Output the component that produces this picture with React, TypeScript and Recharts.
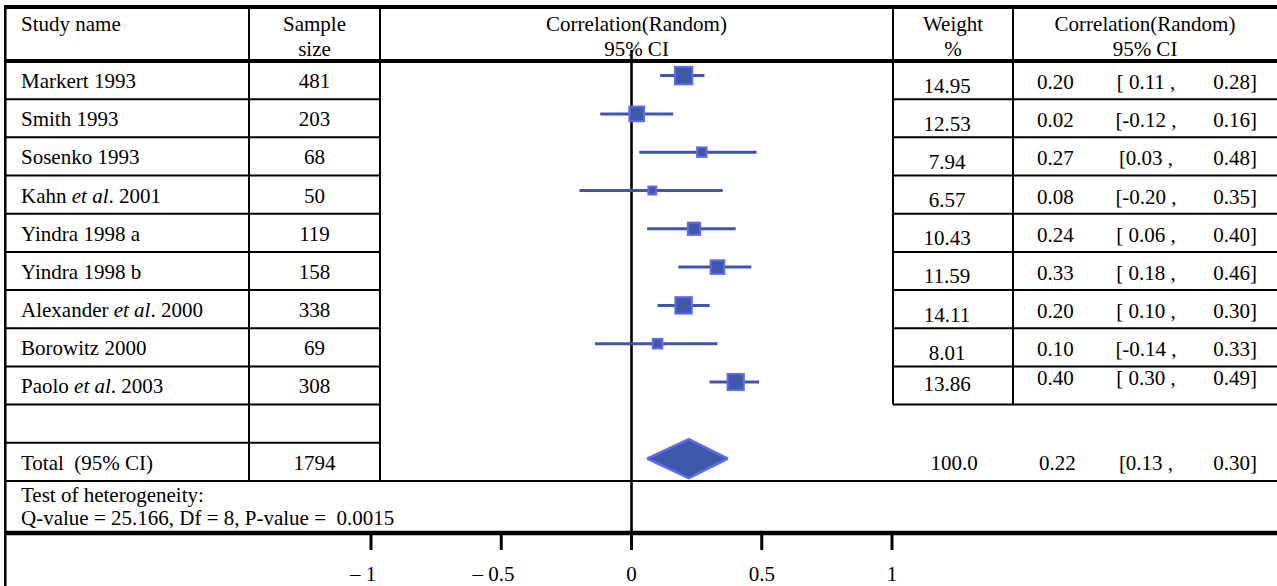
import React from 'react';
import { ComposedChart, Scatter, ErrorBar, Area, XAxis, YAxis, ReferenceLine } from 'recharts';

// ---------- data ----------
const studyNames = [
  'Markert 1993',
  'Smith 1993',
  'Sosenko 1993',
  'Kahn et al. 2001',
  'Yindra 1998 a',
  'Yindra 1998 b',
  'Alexander et al. 2000',
  'Borowitz 2000',
  'Paolo et al. 2003',
];
const sampleSizes = [481, 203, 68, 50, 119, 158, 338, 69, 308];
const weights = [14.95, 12.53, 7.94, 6.57, 10.43, 11.59, 14.11, 8.01, 13.86];
const estimates = [0.2, 0.02, 0.27, 0.08, 0.24, 0.33, 0.2, 0.1, 0.4];
const lowerCI = [0.11, -0.12, 0.03, -0.2, 0.06, 0.18, 0.1, -0.14, 0.3];
const upperCI = [0.28, 0.16, 0.48, 0.35, 0.4, 0.46, 0.3, 0.33, 0.49];
const estimateText = ['0.20', '0.02', '0.27', '0.08', '0.24', '0.33', '0.20', '0.10', '0.40'];
const lowerText = ['[ 0.11 ,', '[-0.12 ,', '[0.03 ,', '[-0.20 ,', '[ 0.06 ,', '[ 0.18 ,', '[ 0.10 ,', '[-0.14 ,', '[ 0.30 ,'];
const upperText = ['0.28]', '0.16]', '0.48]', '0.35]', '0.40]', '0.46]', '0.30]', '0.33]', '0.49]'];

const totalLabel = 'Total  (95% CI)';
const totalSample = 1794;
const totalWeightText = '100.0';
const totalEstimateText = '0.22';
const totalLowerText = '[0.13 ,';
const totalUpperText = '0.30]';
// summary diamond as drawn: left tip, centre, right tip
const totalDiamond = [0.06, 0.22, 0.37];

const xTicks = [-1, -0.5, 0, 0.5, 1];
const xTickLabels = ['\u2013 1', '\u2013 0.5', '0', '0.5', '1'];

const headerCols = [
  ['Study name', ''],
  ['Sample', 'size'],
  ['Correlation(Random)', '95% CI'],
  ['Weight', '%'],
  ['Correlation(Random)', '95% CI'],
];
const heterogeneityLines = ['Test of heterogeneity:', 'Q-value = 25.166, Df = 8, P-value =  0.0015'];

// ---------- layout ----------
const W = 1277;
const H = 586;
const FONT = "'Liberation Serif', 'Times New Roman', Times, serif";
const FS = 21;
const PLOT_TOP = 50;
const AXIS_Y = 533;
const PLOT_L = 5;
const PLOT_R = 1277;
const ZERO_X = 631.5;
const PX_PER_UNIT = 260.5;
const ROW0_Y = 75.6;
const ROW_STEP = 38.3;
const TOTAL_ROW = 10;
const DIAMOND_HALF = 0.51;

const xDomain = [(PLOT_L - ZERO_X) / PX_PER_UNIT, (PLOT_R - ZERO_X) / PX_PER_UNIT];
const yDomain = [(PLOT_TOP - ROW0_Y) / ROW_STEP, (AXIS_Y - ROW0_Y) / ROW_STEP];

const ROW_TOP0 = 61;
const ROW_H = 38.18;
const rowTop = (i: number) => ROW_TOP0 + ROW_H * i;

const C_NAME = 249;
const C_SAMPLE = 380;
const C_WEIGHT = 893;
const C_CI = 1013;
const LEFT = 5.3;

const BOX_FILL = '#3F57A7';
const BOX_EDGE = '#6169F4';
const WHISKER = '#3E55AD';

const studyData = studyNames.map((_, i) => ({
  x: estimates[i],
  y: i,
  err: [estimates[i] - lowerCI[i], upperCI[i] - estimates[i]],
  w: weights[i],
}));

const diamondData = [
  { x: totalDiamond[0], r: [TOTAL_ROW, TOTAL_ROW] },
  { x: totalDiamond[1], r: [TOTAL_ROW - DIAMOND_HALF, TOTAL_ROW + DIAMOND_HALF] },
  { x: totalDiamond[2], r: [TOTAL_ROW, TOTAL_ROW] },
];

const BoxShape = (props: any) => {
  const { cx, cy, payload } = props;
  if (cx == null || cy == null) return null;
  const s = payload.w * 1.13 + 0.5;
  return (
    <rect
      x={cx - s / 2}
      y={cy - s / 2}
      width={s}
      height={s}
      fill={BOX_FILL}
      stroke={BOX_EDGE}
      strokeWidth={2}
    />
  );
};

const numWidth = (s: string) => {
  let w = 0;
  for (const ch of s) w += ch === '.' ? 0.25 : 0.5;
  return w * FS;
};

const TickLabel = (props: any) => {
  const { x, y, payload } = props;
  const idx = xTicks.indexOf(payload.value);
  const label = xTickLabels[idx] ?? String(payload.value);
  const num = label.replace('\u2013 ', '');
  return (
    <text
      x={x + numWidth(num) / 2}
      y={y + 29}
      textAnchor="end"
      fontFamily={FONT}
      fontSize={FS}
      fill="#000"
      style={{ whiteSpace: 'pre' }}
    >
      {label}
    </text>
  );
};

const renderName = (name: string) => {
  const k = name.indexOf('et al');
  if (k < 0) return name;
  return (
    <>
      {name.slice(0, k)}
      <tspan fontStyle="italic">et al</tspan>
      {name.slice(k + 5)}
    </>
  );
};

const T = (p: any) => (
  <text
    fontFamily={FONT}
    fontSize={FS}
    fill="#000"
    style={{ whiteSpace: 'pre' }}
    {...p}
  />
);

const Ln = (p: any) => <line stroke="#000" strokeWidth={2} {...p} />;

const TableLayer = () => {
  const lines: any[] = [];
  lines.push(<Ln key="top" x1={LEFT - 1} x2={W} y1={7} y2={7} strokeWidth={4} />);
  lines.push(<Ln key="hdr" x1={LEFT - 1} x2={W} y1={61} y2={61} strokeWidth={4} />);
  lines.push(<Ln key="lb" x1={LEFT} x2={LEFT} y1={5} y2={H} strokeWidth={2.5} />);
  lines.push(<Ln key="v1" x1={C_NAME} x2={C_NAME} y1={5} y2={rowTop(11)} />);
  lines.push(<Ln key="v2" x1={C_SAMPLE} x2={C_SAMPLE} y1={5} y2={rowTop(11)} />);
  lines.push(<Ln key="v3" x1={C_WEIGHT} x2={C_WEIGHT} y1={5} y2={rowTop(9)} />);
  lines.push(<Ln key="v4" x1={C_CI} x2={C_CI} y1={5} y2={rowTop(9)} />);
  for (let i = 1; i <= 10; i++) {
    lines.push(<Ln key={'l' + i} x1={LEFT} x2={C_SAMPLE} y1={rowTop(i)} y2={rowTop(i)} />);
  }
  for (let i = 1; i <= 9; i++) {
    lines.push(<Ln key={'r' + i} x1={C_WEIGHT} x2={W} y1={rowTop(i)} y2={rowTop(i)} />);
  }
  lines.push(<Ln key="tot" x1={LEFT} x2={W} y1={rowTop(11)} y2={rowTop(11)} />);

  const texts: any[] = [];
  const hdrX = [21, 314.5, 636.5, 953, 1145];
  headerCols.forEach((h, c) => {
    const anchor = c === 0 ? 'start' : 'middle';
    texts.push(<T key={'h1' + c} x={hdrX[c]} y={31} textAnchor={anchor}>{h[0]}</T>);
    if (h[1]) texts.push(<T key={'h2' + c} x={hdrX[c]} y={56} textAnchor={anchor}>{h[1]}</T>);
  });

  studyNames.forEach((name, i) => {
    const top = rowTop(i);
    const wOff = i === 8 ? 25 : 31.5;
    const cOff = i === 8 ? 19 : 28;
    texts.push(<T key={'n' + i} x={21} y={top + 27}>{renderName(name)}</T>);
    texts.push(<T key={'s' + i} x={314.5} y={top + 27} textAnchor="middle">{sampleSizes[i]}</T>);
    texts.push(<T key={'w' + i} x={947} y={top + wOff} textAnchor="middle">{weights[i].toFixed(2)}</T>);
    texts.push(<T key={'e' + i} x={1037} y={top + cOff}>{estimateText[i]}</T>);
    texts.push(<T key={'lo' + i} x={1146} y={top + cOff} textAnchor="middle">{lowerText[i]}</T>);
    texts.push(<T key={'up' + i} x={1257} y={top + cOff} textAnchor="end">{upperText[i]}</T>);
  });

  const tTop = rowTop(TOTAL_ROW);
  texts.push(<T key="tn" x={21} y={tTop + 27}>{totalLabel}</T>);
  texts.push(<T key="ts" x={314.5} y={tTop + 27} textAnchor="middle">{totalSample}</T>);
  texts.push(<T key="tw" x={954} y={tTop + 27} textAnchor="middle">{totalWeightText}</T>);
  texts.push(<T key="te" x={1039} y={tTop + 27}>{totalEstimateText}</T>);
  texts.push(<T key="tl" x={1146} y={tTop + 27} textAnchor="middle">{totalLowerText}</T>);
  texts.push(<T key="tu" x={1257} y={tTop + 27} textAnchor="end">{totalUpperText}</T>);

  texts.push(<T key="het1" x={21} y={502}>{heterogeneityLines[0]}</T>);
  texts.push(<T key="het2" x={21} y={525}>{heterogeneityLines[1]}</T>);

  return (
    <svg width={W} height={H} style={{ position: 'absolute', left: 0, top: 0 }}>
      {lines}
      {texts}
    </svg>
  );
};

export default function App() {
  return (
    <div
      style={{
        position: 'absolute',
        left: 0,
        top: 0,
        width: W,
        height: H,
        background: '#fff',
        overflow: 'hidden',
      }}
    >
      <TableLayer />
      <div style={{ position: 'absolute', left: 0, top: 0 }}>
        <ComposedChart
          width={W}
          height={H}
          margin={{ top: PLOT_TOP, right: W - PLOT_R, left: PLOT_L, bottom: 0 }}
        >
          <XAxis
            type="number"
            dataKey="x"
            domain={xDomain}
            allowDataOverflow
            ticks={xTicks}
            interval={0}
            height={H - AXIS_Y}
            axisLine={{ stroke: '#000', strokeWidth: 4.5 }}
            tickLine={{ stroke: '#000', strokeWidth: 3 }}
            tickSize={17}
            tick={<TickLabel />}
          />
          <YAxis type="number" dataKey="y" domain={yDomain} allowDataOverflow reversed hide />
          <ReferenceLine x={0} stroke="#000" strokeWidth={2.6} ifOverflow="extendDomain" />
          <Area
            data={diamondData}
            dataKey="r"
            type="linear"
            stroke={BOX_EDGE}
            strokeWidth={2.5}
            fill={BOX_FILL}
            fillOpacity={1}
            dot={false}
            activeDot={false}
            isAnimationActive={false}
          />
          <Scatter data={studyData} shape={<BoxShape />} isAnimationActive={false}>
            <ErrorBar
              dataKey="err"
              direction="x"
              width={0}
              stroke={WHISKER}
              strokeWidth={3}
              isAnimationActive={false}
            />
          </Scatter>
        </ComposedChart>
      </div>
    </div>
  );
}
